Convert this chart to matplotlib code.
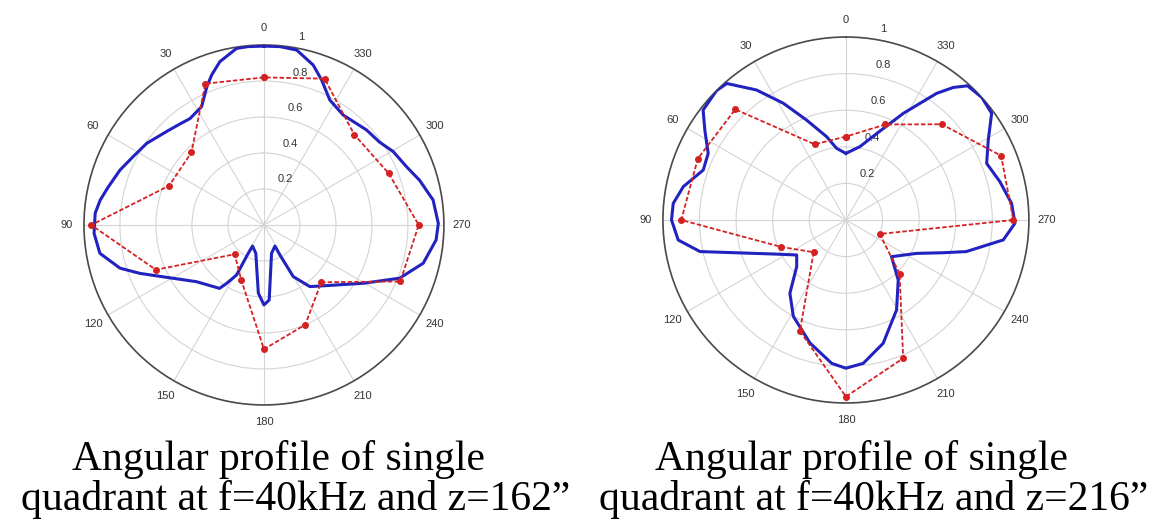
import numpy as np
import matplotlib.pyplot as plt

# angular profile, z = 162" (left panel)
left_sim_deg = [0, 5, 8.8, 15.1, 19.2, 22.5, 27.8, 34.8, 39.7, 46.2, 55.2, 62.4, 69.1,
                76.2, 81.3, 86, 92.8, 99.8, 106.7, 111.3, 117.2, 130, 145, 147.4, 151.3,
                151, 151.6, 164, 175.3, 180, 184, 195, 207.6, 208, 209.6, 216.7, 222.5,
                239.6, 248.6, 256.5, 265, 270.5, 278.4, 286, 292.2, 299.6, 305.7, 312.8,
                324.2, 332.2, 338.3, 342.9, 349.4, 354.9]
left_sim_r = [0.994, 0.995, 0.993, 0.94, 0.883, 0.83, 0.743, 0.72, 0.73, 0.75, 0.794,
              0.82, 0.856, 0.89, 0.92, 0.94, 0.945, 0.925, 0.835, 0.74, 0.63, 0.49, 0.43,
              0.385, 0.317, 0.18, 0.133, 0.164, 0.38, 0.444, 0.418, 0.163, 0.132, 0.189,
              0.33, 0.427, 0.46, 0.64, 0.81, 0.91, 0.96, 0.969, 0.95, 0.90, 0.856, 0.826,
              0.79, 0.777, 0.753, 0.785, 0.867, 0.93, 0.989, 0.995]
left_meas_deg = np.arange(0, 360, 22.5)
left_meas_r = [0.82, 0.85, 0.57, 0.57, 0.96, 0.65, 0.23, 0.33,
               0.69, 0.60, 0.45, 0.82, 0.86, 0.75, 0.71, 0.88]

# angular profile, z = 216" (right panel)
right_sim_deg = [0, 7.4, 13, 21.5, 28.2, 34.5, 41.1, 45, 52.4, 57.5, 64.2, 70.7, 78.4,
                 84.5, 90, 96.8, 102.2, 109.1, 115.1, 125.4, 133.4, 142.6, 151.4, 163.7,
                 174.3, 180, 186.9, 196.8, 209.4, 221.1, 231.2, 244.7, 251.4, 255.3,
                 262.8, 268.9, 275.7, 284, 291.9, 299.3, 306.2, 312, 317.8, 321, 324.4,
                 331.7, 340.5, 349.2]
right_sim_r = [0.364, 0.395, 0.467, 0.587, 0.724, 0.862, 0.99, 1.0, 0.985, 0.914, 0.836,
               0.826, 0.907, 0.948, 0.953, 0.923, 0.816, 0.555, 0.438, 0.33, 0.37, 0.504,
               0.60, 0.70, 0.787, 0.81, 0.789, 0.704, 0.564, 0.435, 0.32, 0.427, 0.561,
               0.68, 0.867, 0.924, 0.91, 0.867, 0.829, 0.892, 0.987, 1.0, 0.99, 0.932,
               0.851, 0.662, 0.50, 0.408]
right_meas_deg = np.arange(0, 360, 22.5)
right_meas_r = [0.456, 0.448, 0.855, 0.876, 0.90, 0.384, 0.249, 0.657,
                0.965, 0.818, 0.415, 0.20, 0.915, 0.918, 0.74, 0.565]

angle_ticks = list(range(0, 360, 30))
angle_labels = [str(a) for a in angle_ticks]
r_ticks = [0.2, 0.4, 0.6, 0.8, 1.0]
r_labels = ["0.2", "0.4", "0.6", "0.8", "1"]

captions = [("Angular profile of single", "quadrant at f=40kHz and z=162\u201d"),
            ("Angular profile of single", "quadrant at f=40kHz and z=216\u201d")]


def closed(deg, r):
    deg = list(deg) + [deg[0]]
    r = list(r) + [r[0]]
    return np.deg2rad(deg), np.array(r)


def polar_panel(ax, sim_deg, sim_r, meas_deg, meas_r):
    ax.set_theta_zero_location("N")
    ax.set_ylim(0, 1)
    ax.set_yticks(r_ticks)
    ax.set_yticklabels([])
    ax.set_thetagrids(angle_ticks, angle_labels, fontsize=8, color="#333333",
                      fontfamily="Liberation Sans")
    ax.tick_params(axis="x", pad=2)
    ax.grid(True, color="#d4d4d4", lw=0.8, ls="-")
    ax.spines["polar"].set_color("#4a4a4a")
    ax.spines["polar"].set_linewidth(1.2)

    t, r = closed(sim_deg, sim_r)
    ax.plot(t, r, color="#2222c0", lw=2.2, zorder=4, solid_joinstyle="round")
    t, r = closed(meas_deg, meas_r)
    ax.plot(t, r, color="#d42222", lw=1.3, ls=(0, (2.5, 1.2)), marker="o", ms=4,
            mec="#d42222", mfc="#d42222", zorder=5)

    for rv, lab in zip(r_ticks, r_labels):
        ax.annotate(lab, xy=(np.deg2rad(352), rv), xytext=(6.5, 3.5),
                    textcoords="offset points", ha="left", va="bottom",
                    fontsize=8, color="#333333", fontfamily="Liberation Sans")


fig = plt.figure(figsize=(11.63, 5.25), dpi=100)
ax1 = fig.add_axes([0.0722, 0.2286, 0.3095, 0.6857], projection="polar")
ax2 = fig.add_axes([0.570, 0.2324, 0.3147, 0.6971], projection="polar")
polar_panel(ax1, left_sim_deg, left_sim_r, left_meas_deg, left_meas_r)
polar_panel(ax2, right_sim_deg, right_sim_r, right_meas_deg, right_meas_r)

for (l1, l2), x1, x2 in zip(captions, [279 / 1163, 862 / 1163], [296 / 1163, 874 / 1163]):
    fig.text(x1, 1 - 470 / 525, l1, ha="center", va="baseline", fontsize=30,
             fontfamily="Liberation Serif")
    fig.text(x2, 1 - 510 / 525, l2, ha="center", va="baseline", fontsize=30,
             fontfamily="Liberation Serif")

fig.savefig("out.png", dpi=100)
